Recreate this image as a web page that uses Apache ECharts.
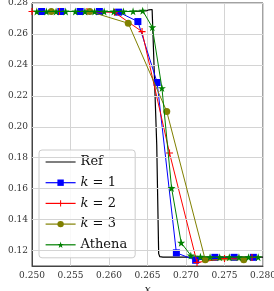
<!DOCTYPE html>
<html>
<head>
<meta charset="utf-8">
<script src="https://cdn.jsdelivr.net/npm/echarts@6/dist/echarts.min.js"></script>
<style>html,body{margin:0;padding:0;background:#fff}#c{width:274px;height:291px}</style>
</head>
<body>
<div id="c"></div>
<script>
// x ticks and y ticks
var xTicks = [0.250, 0.255, 0.260, 0.265, 0.270, 0.275, 0.280];
var yTicks = [0.12, 0.14, 0.16, 0.18, 0.20, 0.22, 0.24, 0.26, 0.28];

// Reference solution
var refX = [0.2500, 0.2630, 0.2640, 0.2645, 0.2648, 0.2652, 0.2654, 0.2656, 0.26575, 0.2662, 0.26645, 0.2666, 0.2670, 0.2800];
var refY = [0.2745, 0.2745, 0.2747, 0.2752, 0.2748, 0.2756, 0.2750, 0.2758, 0.2757, 0.1884, 0.1180, 0.1160, 0.1157, 0.1157];

// k = 1
var k1X = [0.25125, 0.25375, 0.25625, 0.25875, 0.26125, 0.26375, 0.26625, 0.26875, 0.27125, 0.27375, 0.27625, 0.27875];
var k1Y = [0.2745, 0.2745, 0.2745, 0.2745, 0.2741, 0.2680, 0.2286, 0.1185, 0.1137, 0.1156, 0.1156, 0.1156];

// k = 2
var k2X = [0.25000, 0.25357, 0.25714, 0.26071, 0.26429, 0.26786, 0.27143, 0.27500, 0.27857];
var k2Y = [0.2745, 0.2745, 0.2745, 0.2740, 0.2615, 0.1830, 0.1123, 0.1148, 0.1155];

// k = 3
var k3X = [0.2525, 0.2575, 0.2625, 0.2675, 0.2725, 0.2775];
var k3Y = [0.2745, 0.2745, 0.2669, 0.2099, 0.1140, 0.1140];

// Athena
var athX = [0.250625, 0.251875, 0.253125, 0.254375, 0.255625, 0.256875, 0.258125, 0.259375, 0.260625, 0.261875,
            0.263125, 0.264375, 0.265625, 0.266875, 0.268125, 0.269375, 0.270625, 0.271875, 0.273125, 0.274375,
            0.275625, 0.276875, 0.278125, 0.279375];
var athY = [0.2745, 0.2745, 0.2745, 0.2745, 0.2745, 0.2745, 0.2745, 0.2745, 0.2745, 0.2745,
            0.2746, 0.2750, 0.2643, 0.2250, 0.1604, 0.1250, 0.1168, 0.1160, 0.1157, 0.1157,
            0.1157, 0.1157, 0.1157, 0.1157];

function zip(a, b) { return a.map(function (v, i) { return [v, b[i]]; }); }

var SERIF = '"DejaVu Serif", serif';
var STAR = 'path://M50,0 L61,35 L98,35 L68,57 L79,91 L50,70 L21,91 L32,57 L2,35 L39,35 Z';
var PLUS = 'path://M42,0H58V42H100V58H58V100H42V58H0V42H42Z';
var LINEICON = 'path://M0,0H0.01V0.01H0Z M0,3.4H30V4.6H0Z M0,7.99H0.01V8H0Z';

var chart = echarts.init(document.getElementById('c'), null, {renderer: 'canvas'});
chart.setOption({
  animation: false,
  backgroundColor: '#fff',
  grid: {left: 32, right: 11, top: 3, bottom: 25, show: true, borderColor: '#444', borderWidth: 1,
    containLabel: false, outerBoundsMode: 'none'},
  xAxis: {
    type: 'value', min: 0.25, max: 0.28, interval: 0.005,
    name: 'x', nameLocation: 'middle', nameGap: 11,
    nameTextStyle: {fontFamily: SERIF, fontStyle: 'italic', fontSize: 11, color: '#222'},
    axisLine: {show: true, onZero: false, lineStyle: {color: '#444', width: 1}},
    axisTick: {show: false},
    axisLabel: {fontFamily: SERIF, fontSize: 9, color: '#333', margin: 5,
      formatter: function (v) { return v.toFixed(3); }},
    splitLine: {show: true, lineStyle: {color: '#d4d4d4', width: 1}}
  },
  yAxis: {
    type: 'value', min: 0.11, max: 0.28, interval: 0.01,
    name: 'ρ', nameLocation: 'middle', nameGap: 26, nameRotate: 90,
    nameTextStyle: {fontFamily: SERIF, fontStyle: 'italic', fontSize: 11, color: '#222'},
    axisLine: {show: true, onZero: false, lineStyle: {color: '#444', width: 1}},
    axisTick: {show: false},
    axisLabel: {fontFamily: SERIF, fontSize: 9, color: '#333', margin: 4,
      formatter: function (v) {
        var r = Math.round(v * 100);
        return (r % 2 === 0) ? (r / 100).toFixed(2) : '';
      }},
    splitLine: {show: false}
  },
  legend: {
    orient: 'vertical', left: 39, top: 150,
    padding: [5, 8, 6, 6],
    itemWidth: 30, itemHeight: 8, itemGap: 6.7, itemTextGap: 12,
    lineStyle: {width: 1.2},
    backgroundColor: 'rgba(255,255,255,0.85)', borderColor: '#cccccc', borderWidth: 1, borderRadius: 3,
    textStyle: {fontFamily: SERIF, fontSize: 13, color: '#111', lineHeight: 14,
      rich: {i: {fontFamily: SERIF, fontStyle: 'italic', fontSize: 13, color: '#111'}}},
    formatter: function (name) {
      if (name.indexOf('k') === 0) return '{i|k}' + name.slice(1);
      return name;
    },
    data: [{name: 'Ref', icon: LINEICON}, 'k = 1', 'k = 2', 'k = 3', 'Athena']
  },
  series: [
    {type: 'line', name: '_grid', data: [], silent: true, z: 1,
      markLine: {silent: true, symbol: 'none', label: {show: false},
        lineStyle: {color: '#d4d4d4', width: 1, type: 'solid'},
        data: yTicks.map(function (t) { return {yAxis: t}; })}},
    {type: 'line', name: 'Ref', data: zip(refX, refY), showSymbol: false, symbol: 'none',
      lineStyle: {color: '#000', width: 1.2}, itemStyle: {color: '#000'}, z: 2},
    {type: 'line', name: 'k = 1', data: zip(k1X, k1Y), symbol: 'rect', symbolSize: 7,
      lineStyle: {color: '#0000ff', width: 1}, itemStyle: {color: '#0000ff'}, z: 3},
    {type: 'line', name: 'k = 2', data: zip(k2X, k2Y), symbol: PLUS, symbolSize: 7,
      lineStyle: {color: '#ff0000', width: 1}, itemStyle: {color: '#ff0000'}, z: 4},
    {type: 'line', name: 'k = 3', data: zip(k3X, k3Y), symbol: 'circle', symbolSize: 7,
      lineStyle: {color: '#808000', width: 1}, itemStyle: {color: '#808000'}, z: 5},
    {type: 'line', name: 'Athena', data: zip(athX, athY), symbol: STAR, symbolSize: 8,
      lineStyle: {color: '#008000', width: 1}, itemStyle: {color: '#008000'}, z: 6}
  ]
});
</script>
</body>
</html>
